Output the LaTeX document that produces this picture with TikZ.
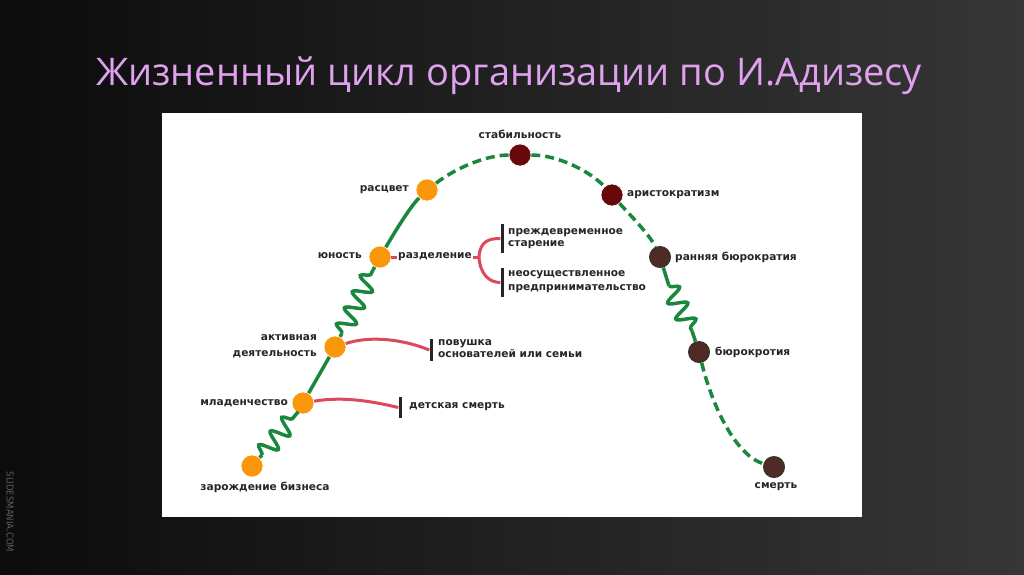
\documentclass[tikz,border=0pt]{standalone}
\usepackage{fontspec}
\setmainfont{DejaVu Sans}
\newfontfamily\titlefont{Open Sans}
\newfontfamily\markfont{DejaVu Sans Condensed}
\usetikzlibrary{decorations.pathmorphing}

\definecolor{lifegreen}{RGB}{25,135,60}
\definecolor{youngorange}{RGB}{250,150,10}
\definecolor{peakred}{RGB}{105,8,10}
\definecolor{agebrown}{RGB}{80,42,36}
\definecolor{trapred}{RGB}{220,72,92}
\definecolor{titlepink}{RGB}{224,162,238}

\tikzset{
  youngdot/.style={circle, fill=youngorange, draw=white, line width=0.6pt, minimum size=22pt, inner sep=0pt},
  peakdot/.style={circle, fill=peakred, draw=white, line width=0.6pt, minimum size=22pt, inner sep=0pt},
  agedot/.style={circle, fill=agebrown, draw=black!80, line width=1pt, minimum size=21pt, inner sep=0pt},
  lbl/.style={font=\bfseries\fontsize{10.6}{12}\selectfont, text=black!85, inner sep=1pt},
  lifeline/.style={draw=lifegreen, line width=3.5pt},
  lifedash/.style={lifeline, dash pattern=on 9pt off 5pt},
  spring/.style={lifeline, decorate, decoration={snake, amplitude=9pt, segment length=18pt}},
  trap/.style={draw=trapred, line width=3pt},
  blockbar/.style={fill=black!85, minimum width=3pt, inner sep=0pt},
}

\begin{document}
\begin{tikzpicture}[x=1pt, y=-1pt]
    \useasboundingbox (0,0) rectangle (1024,574);

    % Slide background and white panel
    \shade[left color={rgb,255:red,12;green,12;blue,12}, right color={rgb,255:red,54;green,54;blue,54}] (0,0) rectangle (1024,574);
    \fill[white] (162,113) rectangle (862,517);

    % Title
    \node[anchor=base, text=titlepink, font=\titlefont\fontsize{38}{42}\selectfont] (title) at (509,85) {Жизненный цикл организации по И.Адизесу};

    % Watermark
    \node[rotate=-90, text={rgb,255:red,95;green,95;blue,95}, font=\markfont\fontsize{9.5}{10}\selectfont] (mark) at (10,512) {SLIDESMANIA.COM};

    % Stage dots
    \node[youngdot] (zar) at (252,466) {};
    \node[youngdot] (mlad) at (303,403) {};
    \node[youngdot] (akt) at (335,347) {};
    \node[youngdot] (yun) at (380,257) {};
    \node[youngdot] (rasc) at (427,190) {};
    \node[peakdot] (stab) at (520,155) {};
    \node[peakdot] (arist) at (612,195) {};
    \node[agedot] (rann) at (660,257) {};
    \node[agedot] (bur) at (699,352) {};
    \node[agedot] (smert) at (774,467) {};

    % Spring ends
    \coordinate (s1a) at (262,455);
    \coordinate (s1b) at (298,412);
    \coordinate (s2a) at (342,333);
    \coordinate (s2b) at (373,270);
    \coordinate (s3a) at (669,286);
    \coordinate (s3b) at (692,331);

    % Growth: solid line and springs
    \draw[lifeline] (zar) -- (s1a);
    \draw[spring] (s1a) -- (s1b);
    \draw[lifeline] (s1b) -- (mlad);
    \draw[lifeline] (mlad) -- (akt);
    \draw[lifeline] (akt) -- (s2a);
    \draw[spring] (s2a) -- (s2b);
    \draw[lifeline] (s2b) -- (yun);
    \draw[lifeline] (yun) .. controls (396,230) and (410,207) .. (rasc);

    % Top of the curve (dashed)
    \draw[lifedash] (rasc) .. controls (460,165) and (490,155) .. (stab);
    \draw[lifedash] (stab) .. controls (560,155) and (592,173) .. (arist);
    \draw[lifedash] (arist) .. controls (630,215) and (650,235) .. (rann);

    % Decline
    \draw[lifeline] (rann) -- (s3a);
    \draw[spring] (s3a) -- (s3b);
    \draw[lifeline] (s3b) -- (bur);
    \draw[lifedash] (bur) .. controls (712,405) and (735,455) .. (smert);

    % Stage labels
    \node[lbl] (zarL) at (265,487) {зарождение бизнеса};
    \node[lbl, anchor=east] (mladL) at (289,403) {младенчество};
    \node[lbl, anchor=east, align=right, font=\bfseries\fontsize{10.6}{16}\selectfont] (aktL) at (318,346) {активная\\деятельность};
    \node[lbl, anchor=east] (yunL) at (363,256) {юность};
    \node[lbl, anchor=east] (rascL) at (410,190) {расцвет};
    \node[lbl] (stabL) at (520,134) {стабильность};
    \node[lbl, anchor=west] (aristL) at (626,195) {аристократизм};
    \node[lbl, anchor=west] (rannL) at (674,257) {ранняя бюрократия};
    \node[lbl, anchor=west] (burL) at (714,352) {бюрокротия};
    \node[lbl] (smertL) at (776,487) {смерть};
    \node[lbl, anchor=west] (razdL) at (397,257) {разделение};

    % Traps
    \node[blockbar, minimum height=29pt] (barPrezh) at (502,238.5) {};
    \node[blockbar, minimum height=29pt] (barNeo) at (502,282.5) {};
    \node[blockbar, minimum height=22pt] (barPov) at (431,350) {};
    \node[blockbar, minimum height=21pt] (barDet) at (400,407.5) {};
    \node[lbl, anchor=west, align=left] (prezhL) at (507,239) {преждевременное\\старение};
    \node[lbl, anchor=west, align=left, font=\bfseries\fontsize{10.6}{14}\selectfont] (neoL) at (507,282) {неосуществленное\\предпринимательство};
    \node[lbl, anchor=west, align=left] (povL) at (437,349) {повушка\\основателей или семьи};
    \node[lbl, anchor=west] (detL) at (408,407) {детская смерть};

    \coordinate (razdJ) at (479,257);
    \draw[trap] (yun) -- (razdL);
    \draw[trap] (razdL) -- (razdJ);
    \draw[trap] (razdJ) .. controls (480,241) and (489,238.5) .. (barPrezh.west);
    \draw[trap] (razdJ) .. controls (480,274) and (489,282.5) .. (barNeo.west);
    \draw[trap] (akt) .. controls (372,335) and (405,340) .. (barPov.west);
    \draw[trap] (mlad) .. controls (345,396) and (375,402) .. (barDet.west);
\end{tikzpicture}
\end{document}
